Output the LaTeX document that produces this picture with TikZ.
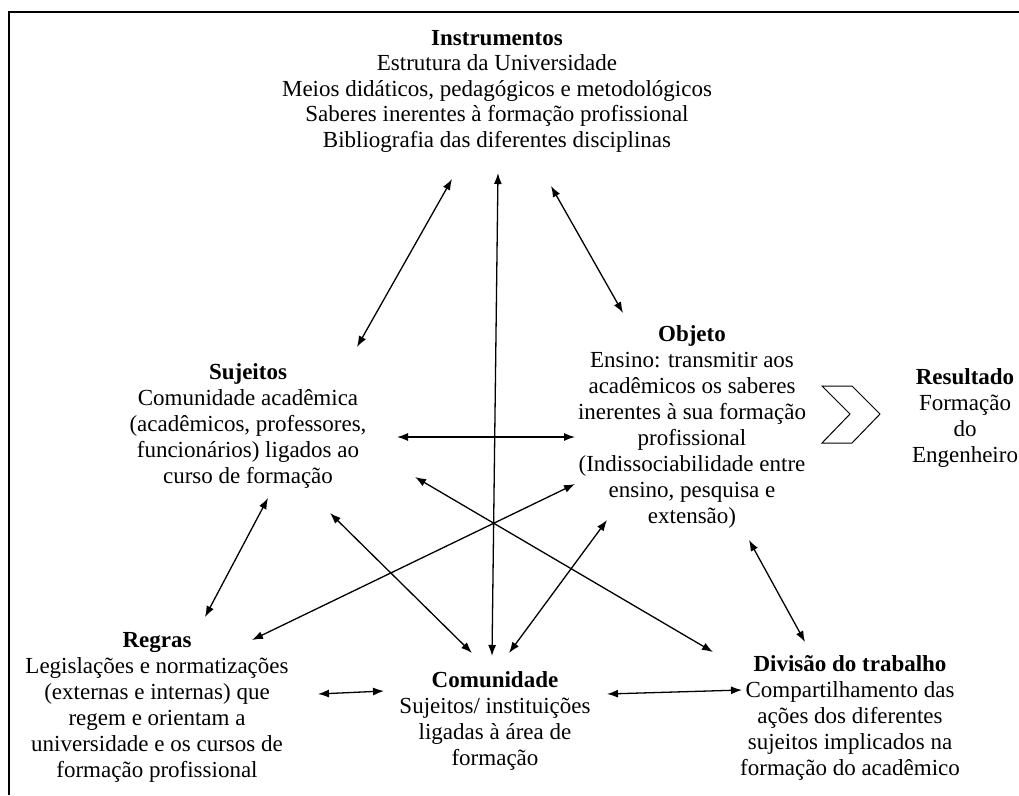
\documentclass[tikz,border=0pt]{standalone}
\usepackage{fontspec}
\setmainfont{Liberation Serif}
\usetikzlibrary{arrows.meta}
\begin{document}
\begin{tikzpicture}[x=1pt,y=-1pt,
  txt/.style={align=center,inner sep=0pt,font=\fontsize{23}{26}\selectfont},
  link/.style={{Latex[length=11pt,width=8pt]}-{Latex[length=11pt,width=8pt]},line width=1.3pt},
  frame/.style={line width=2pt}]
\useasboundingbox (0,0) rectangle (1019,795);
\draw[frame] (1019,12) -- (9,12) -- (9,795);

\node[txt,font=\fontsize{23}{25.5}\selectfont] (instr) at (497,91) {\textbf{Instrumentos}\\Estrutura da Universidade\\Meios didáticos, pedagógicos e metodológicos\\Saberes inerentes à formação profissional\\Bibliografia das diferentes disciplinas};
\node[txt] (suj) at (248,426) {\textbf{Sujeitos}\\Comunidade acadêmica\\(acadêmicos, professores,\\funcionários) ligados ao\\curso de formação};
\node[txt] (obj) at (692,427) {\textbf{Objeto}\\Ensino: transmitir aos\\acadêmicos os saberes\\inerentes à sua formação\\profissional\\(Indissociabilidade entre\\ensino, pesquisa e\\extensão)};
\node[txt] (res) at (965,418) {\textbf{Resultado}\\Formação\\do\\Engenheiro};
\node[txt] (reg) at (157,707) {\textbf{Regras}\\Legislações e normatizações\\(externas e internas) que\\regem e orientam a\\universidade e os cursos de\\formação profissional};
\node[txt] (com) at (495,721) {\textbf{Comunidade}\\Sujeitos/ instituições\\ligadas à área de\\formação};
\node[txt] (div) at (850,718) {\textbf{Divisão do trabalho}\\Compartilhamento das\\ações dos diferentes\\sujeitos implicados na\\formação do acadêmico};

% chevron between Objeto and Resultado
\draw[line width=1pt] (822,386) -- (852,386) -- (880,414) -- (852,443) -- (822,443) -- (850,414) -- cycle;

% arrow end coordinates
\coordinate (iS) at (452,179);
\coordinate (sI) at (357,347);
\coordinate (iC) at (498,173);
\coordinate (cI) at (492,656);
\coordinate (iO) at (551,186);
\coordinate (oI) at (623,313);
\coordinate (sO) at (397,437);
\coordinate (oS) at (575,437);
\coordinate (sD) at (415,477);
\coordinate (dS) at (713,652);
\coordinate (oR) at (575,484);
\coordinate (rO) at (252,640);
\coordinate (sC) at (330,513);
\coordinate (cS) at (472,653);
\coordinate (oC) at (607,520);
\coordinate (cO) at (509,653);
\coordinate (oD) at (749,540);
\coordinate (dO) at (805,642);
\coordinate (sR) at (268,498);
\coordinate (rS) at (205,617);
\coordinate (rC) at (318,694);
\coordinate (cR) at (384,691);
\coordinate (cD) at (607,694);
\coordinate (dC) at (742,690);

\draw[link] (iS) -- (sI);
\draw[link] (iC) -- (cI);
\draw[link] (iO) -- (oI);
\draw[link] (sO) -- (oS);
\draw[link] (sD) -- (dS);
\draw[link] (oR) -- (rO);
\draw[link] (sC) -- (cS);
\draw[link] (oC) -- (cO);
\draw[link] (oD) -- (dO);
\draw[link] (sR) -- (rS);
\draw[link] (rC) -- (cR);
\draw[link] (cD) -- (dC);
\end{tikzpicture}
\end{document}
